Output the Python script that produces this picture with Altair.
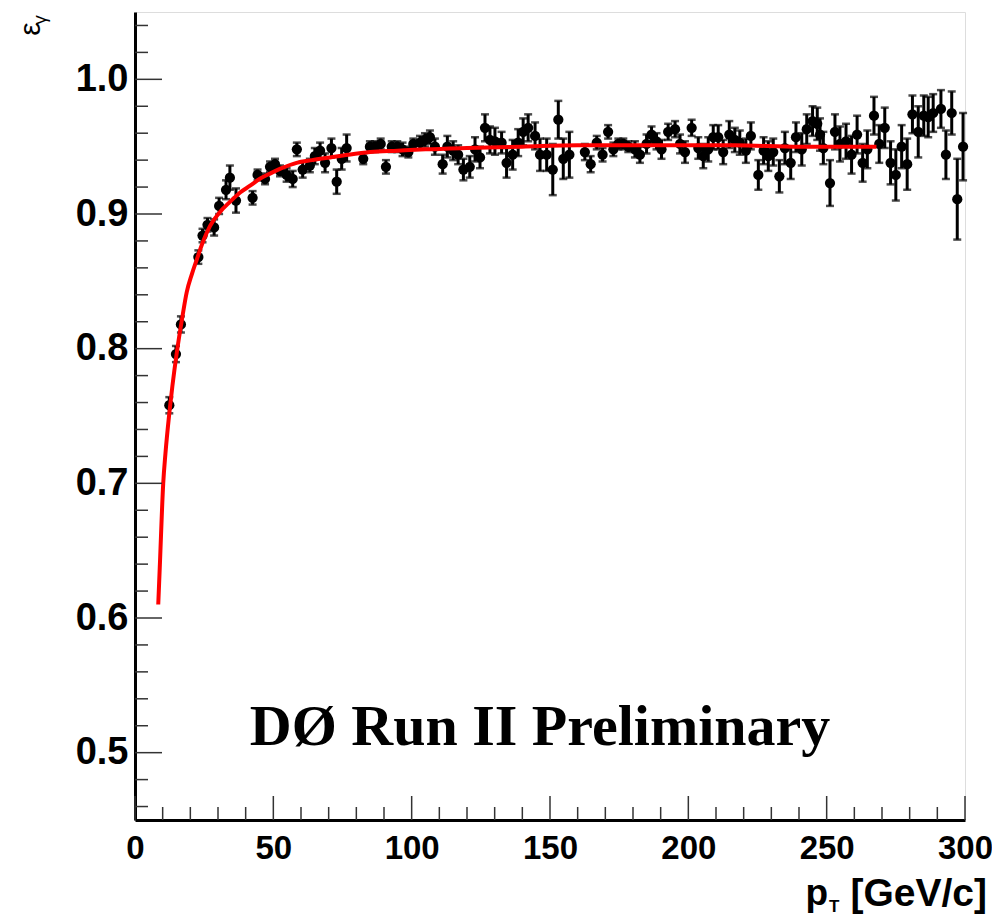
import altair as alt
import pandas as pd

# ---- data ----
pt = [12.4, 14.8, 16.6, 22.9, 24.4, 26.2, 28.6, 30.4, 32.9, 34.3, 36.5, 42.5, 44.3, 47.0, 48.8,
      50.6, 52.4, 54.8, 57.0, 58.5, 60.6, 63.2, 65.0, 66.9, 68.7, 71.0, 72.9, 74.7, 76.5, 82.5,
      84.9, 86.7, 88.8, 90.7, 92.8, 94.8, 96.7, 98.8, 100.6, 103.0, 104.8, 106.6, 108.4, 111.2,
      112.9, 115.0, 116.8, 118.7, 121.0, 122.9, 124.7, 126.5, 128.3, 130.1, 132.5, 134.3, 136.5,
      138.5, 140.3, 142.1, 144.6, 146.4, 148.8, 151.0, 153.0, 154.8, 157.0, 162.6, 164.7, 166.9,
      169.0, 171.0, 172.9, 174.7, 176.5, 178.3, 180.7, 182.5, 184.9, 186.7, 188.5, 190.3, 192.7,
      195.2, 197.0, 198.8, 201.2, 203.6, 205.4, 207.2, 209.0, 210.8, 212.6, 214.8, 216.8, 218.6,
      220.8, 222.6, 225.3, 227.2, 228.9, 230.7, 232.9, 234.9, 237.0, 238.9, 241.0, 242.8, 244.9,
      246.6, 247.6, 248.8, 251.2, 253.0, 254.8, 257.0, 259.0, 261.0, 263.0, 264.7, 267.1, 269.0,
      271.0, 273.1, 275.0, 277.1, 279.1, 281.0, 283.1, 285.1, 286.7, 288.5, 291.3, 293.1, 295.2,
      297.2, 299.3]
eff = [0.758, 0.796, 0.818, 0.868, 0.884, 0.892, 0.890, 0.906, 0.918, 0.927, 0.910, 0.912, 0.929,
       0.926, 0.935, 0.937, 0.932, 0.929, 0.926, 0.948, 0.933, 0.936, 0.943, 0.947, 0.938, 0.949,
       0.924, 0.941, 0.949, 0.941, 0.950, 0.950, 0.952, 0.935, 0.950, 0.950, 0.948, 0.946, 0.952,
       0.953, 0.955, 0.957, 0.950, 0.937, 0.950, 0.947, 0.944, 0.933, 0.935, 0.948, 0.942, 0.964,
       0.955, 0.954, 0.953, 0.938, 0.944, 0.953, 0.961, 0.964, 0.958, 0.944, 0.944, 0.933, 0.970,
       0.941, 0.944, 0.946, 0.937, 0.953, 0.944, 0.961, 0.948, 0.952, 0.952, 0.950, 0.948, 0.944,
       0.952, 0.959, 0.954, 0.948, 0.961, 0.963, 0.952, 0.946, 0.964, 0.949, 0.943, 0.948, 0.957,
       0.957, 0.946, 0.959, 0.955, 0.953, 0.947, 0.958, 0.929, 0.947, 0.943, 0.946, 0.928, 0.949,
       0.938, 0.957, 0.948, 0.963, 0.969, 0.967, 0.959, 0.949, 0.923, 0.961, 0.952, 0.954, 0.944,
       0.959, 0.938, 0.948, 0.973, 0.952, 0.964, 0.938, 0.929, 0.950, 0.937, 0.974, 0.961, 0.973,
       0.972, 0.975, 0.978, 0.944, 0.975, 0.911, 0.950]
err = [0.006, 0.006, 0.006, 0.005, 0.005, 0.005, 0.006, 0.006, 0.007, 0.009, 0.009, 0.005, 0.004,
       0.004, 0.004, 0.004, 0.004, 0.005, 0.006, 0.005, 0.006, 0.005, 0.006, 0.006, 0.007, 0.007,
       0.009, 0.008, 0.010, 0.004, 0.004, 0.004, 0.004, 0.005, 0.004, 0.004, 0.005, 0.004, 0.004,
       0.005, 0.005, 0.005, 0.006, 0.007, 0.008, 0.007, 0.007, 0.008, 0.008, 0.009, 0.008, 0.010,
       0.010, 0.010, 0.008, 0.011, 0.011, 0.010, 0.010, 0.010, 0.010, 0.012, 0.012, 0.019, 0.014,
       0.015, 0.017, 0.006, 0.006, 0.005, 0.005, 0.005, 0.005, 0.004, 0.004, 0.004, 0.006, 0.006,
       0.007, 0.006, 0.006, 0.007, 0.006, 0.006, 0.007, 0.008, 0.006, 0.008, 0.009, 0.009, 0.009,
       0.009, 0.009, 0.010, 0.009, 0.009, 0.009, 0.010, 0.011, 0.010, 0.011, 0.010, 0.012, 0.012,
       0.012, 0.011, 0.012, 0.011, 0.011, 0.012, 0.012, 0.012, 0.017, 0.013, 0.013, 0.013, 0.014,
       0.014, 0.014, 0.014, 0.014, 0.014, 0.015, 0.016, 0.019, 0.016, 0.019, 0.014, 0.019, 0.015,
       0.015, 0.014, 0.014, 0.018, 0.016, 0.030, 0.025]

fit_x = [8.4, 9.0, 10.2, 11.0, 12.4, 13.5, 15.1, 17.0, 18.7, 20.5, 22.3, 24.5, 27.1, 30.5, 34.3,
         38.0, 41.6, 45.0, 48.8, 53.0, 58.4, 64.0, 70.5, 77.0, 85.0, 95.0, 105.0, 120.0, 140.0,
         160.0, 190.0, 217.0, 240.0, 268.0]
fit_y = [0.610, 0.640, 0.700, 0.722, 0.752, 0.772, 0.797, 0.822, 0.842, 0.855, 0.866, 0.879,
         0.891, 0.901, 0.909, 0.916, 0.921, 0.926, 0.930, 0.934, 0.938, 0.940, 0.942, 0.944,
         0.946, 0.947, 0.948, 0.949, 0.950, 0.951, 0.951, 0.951, 0.950, 0.950]

x_major = [0, 50, 100, 150, 200, 250, 300]
x_minor = [v for v in range(10, 300, 10) if v % 50 != 0]
y_major = [0.5, 0.6, 0.7, 0.8, 0.9, 1.0]
y_minor = [0.46, 0.48, 0.52, 0.54, 0.56, 0.58, 0.62, 0.64, 0.66, 0.68, 0.72, 0.74, 0.76, 0.78,
           0.82, 0.84, 0.86, 0.88, 0.92, 0.94, 0.96, 0.98, 1.02, 1.04]

label_text = ["DØ Run II Preliminary"]
label_x = [146.4]
label_y = [0.506]

W, H = 830, 808

pts = pd.DataFrame({"pt": pt, "eff": eff, "err": err})
pts["lo"] = pts["eff"] - pts["err"]
pts["hi"] = pts["eff"] + pts["err"]
fit = pd.DataFrame({"pt": fit_x, "eff": fit_y})

xs = alt.Scale(domain=[0, 300], nice=False, zero=False)
ys = alt.Scale(domain=[0.45, 1.05], nice=False, zero=False)

LAB = "Liberation Sans"

x_axis = alt.Axis(values=x_major, format="d", ticks=False, grid=False, domainColor="black",
                  domainWidth=3, labelFont=LAB, labelFontWeight="bold", labelFontSize=33,
                  labelColor="black", labelPadding=12, labelFlush=False, labelOverlap=False,
                  title=None)
y_axis = alt.Axis(values=y_major, format=".1f", ticks=False, grid=False, domainColor="black",
                  domainWidth=3, labelFont=LAB, labelFontWeight="bold", labelFontSize=38,
                  labelColor="black", labelPadding=7, labelOverlap=False, labelFlush=False,
                  title=None)


def X(f):
    return alt.X(f, scale=xs, axis=x_axis)


def Y(f):
    return alt.Y(f, scale=ys, axis=y_axis)


bars = alt.Chart(pts).mark_rule(color="black", strokeWidth=3).encode(
    x=X("pt:Q"), y=Y("lo:Q"), y2="hi:Q")
cap_lo = alt.Chart(pts).mark_tick(color="black", orient="horizontal", size=8, thickness=2.5).encode(
    x=X("pt:Q"), y=Y("lo:Q"))
cap_hi = alt.Chart(pts).mark_tick(color="black", orient="horizontal", size=8, thickness=2.5).encode(
    x=X("pt:Q"), y=Y("hi:Q"))
dots = alt.Chart(pts).mark_circle(color="black", opacity=1, size=105).encode(
    x=X("pt:Q"), y=Y("eff:Q"))

fit_line = alt.Chart(fit).mark_line(color="#ff0000", strokeWidth=4, interpolate="monotone").encode(
    x=X("pt:Q"), y=Y("eff:Q"))

# inward ticks (ROOT style)
tick_col = "#333333"
yM = alt.Chart(pd.DataFrame({"v": y_major})).mark_rule(color=tick_col, strokeWidth=1.5).encode(
    y=Y("v:Q"), x=alt.value(0), x2=alt.value(27))
ym = alt.Chart(pd.DataFrame({"v": y_minor})).mark_rule(color=tick_col, strokeWidth=1.5).encode(
    y=Y("v:Q"), x=alt.value(0), x2=alt.value(13))
xM = alt.Chart(pd.DataFrame({"v": x_major})).mark_rule(color=tick_col, strokeWidth=1.5).encode(
    x=X("v:Q"), y=alt.value(H), y2=alt.value(H - 24))
xm = alt.Chart(pd.DataFrame({"v": x_minor})).mark_rule(color=tick_col, strokeWidth=1.5).encode(
    x=X("v:Q"), y=alt.value(H), y2=alt.value(H - 13))

label = alt.Chart(pd.DataFrame({"t": label_text, "x": label_x, "y": label_y})).mark_text(
    font="Liberation Serif", fontWeight="bold", fontSize=58, color="black",
    align="center", baseline="alphabetic").encode(
    x=X("x:Q"), y=Y("y:Q"), text="t:N")

# axis titles
eps = alt.Chart(pd.DataFrame({"t": ["ε"]})).mark_text(
    font=LAB, fontSize=30, color="black", angle=270, align="center", baseline="middle").encode(
    x=alt.value(-104), y=alt.value(17), text="t:N")
gam = alt.Chart(pd.DataFrame({"t": ["γ"]})).mark_text(
    font=LAB, fontSize=19, color="black", angle=270, align="center", baseline="middle").encode(
    x=alt.value(-95), y=alt.value(8), text="t:N")
xt_p = alt.Chart(pd.DataFrame({"t": ["p"]})).mark_text(
    font=LAB, fontWeight="bold", fontSize=37, color="black", align="right",
    baseline="alphabetic").encode(x=alt.value(693), y=alt.value(893), text="t:N")
xt_T = alt.Chart(pd.DataFrame({"t": ["T"]})).mark_text(
    font=LAB, fontWeight="bold", fontSize=17, color="black", align="left",
    baseline="alphabetic").encode(x=alt.value(694), y=alt.value(900), text="t:N")
xt_u = alt.Chart(pd.DataFrame({"t": ["[GeV/c]"]})).mark_text(
    font=LAB, fontWeight="bold", fontSize=39, color="black", align="right",
    baseline="alphabetic").encode(x=alt.value(852), y=alt.value(894), text="t:N")

chart = alt.layer(
    bars, cap_lo, cap_hi, dots, fit_line, yM, ym, xM, xm, label, eps, gam, xt_p, xt_T, xt_u
).properties(
    width=W, height=H,
    autosize=alt.AutoSizeParams(type="none"),
    padding={"left": 127, "top": 4, "right": 27, "bottom": 96},
).configure_view(stroke="black", strokeWidth=2).configure(background="white")

chart.save("out.html", embed_options={"renderer": "svg", "actions": False})
